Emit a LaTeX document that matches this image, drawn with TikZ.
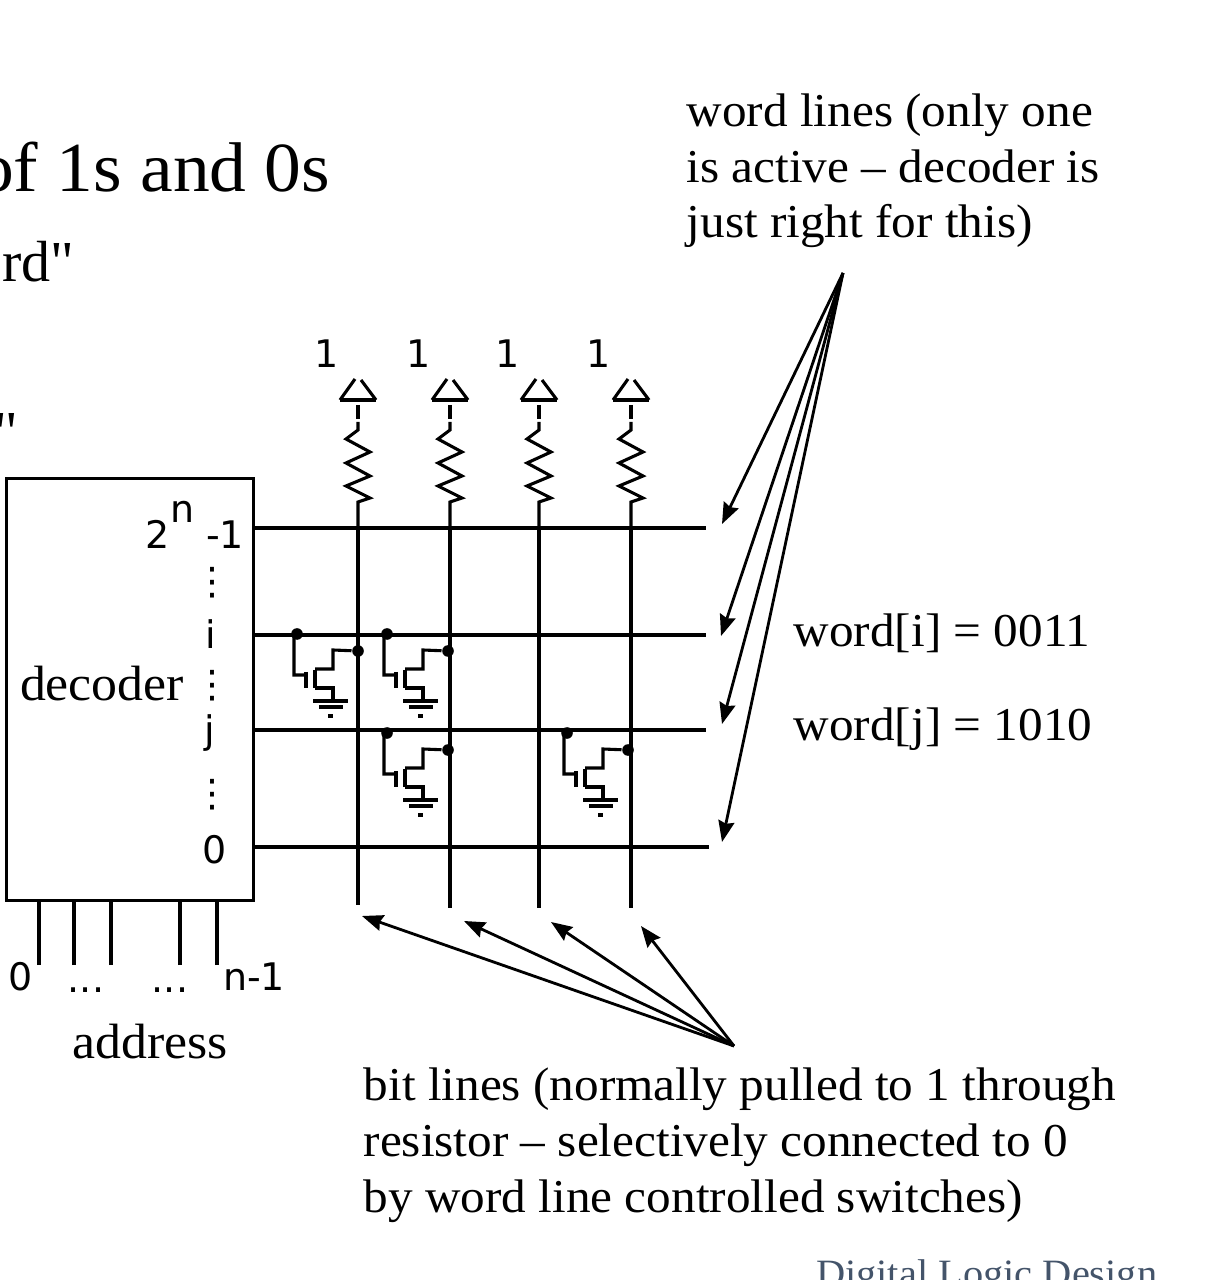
\documentclass[tikz,border=0pt]{standalone}
\usepackage{fontspec}
\setmainfont[FakeStretch=1.045]{Liberation Serif}
\newfontfamily\quoteserif{Liberation Serif}
\setsansfont{DejaVu Sans}
\usetikzlibrary{arrows.meta}
\definecolor{footgray}{RGB}{68,84,106}
\tikzset{
   wire/.style={draw=black, line width=0.88pt},
   pointer/.style={draw=black, line width=0.8pt, -{Stealth[length=6pt,width=4.6pt,inset=0.7pt]}},
   note/.style={anchor=base west, inner sep=0pt, font=\rmfamily\fontsize{13.4}{15.9}\selectfont, align=left},
   blocklabel/.style={anchor=base, inner sep=0pt, font=\rmfamily\fontsize{14.1}{16}\selectfont},
   pin/.style={inner sep=0pt, font=\sffamily\fontsize{10.8}{12}\selectfont},
   joint/.style={circle, fill=black, inner sep=0pt, minimum size=3.3pt},
   cell/.pic={
      \node[joint] (-gate) at (0,0) {};
      \node[joint] (-drain) at (61,17) {};
      \draw[wire] ([xshift=-0.03cm]-gate.center) -- (-3,41) -- (9,41);
      \draw[wire] (9,38) -- (9,54);
      \draw[wire] (18,36) -- (18,54);
      \draw[wire] (-drain) -- (36,16) -- (36,35) -- (18,35);
      \draw[wire] (18,54) -- (36,54) -- (36,67);
      \draw[wire] (16,67) -- (51,67);
      \draw[wire] (22,73) -- (46,73);
      \draw[wire] (31,82) -- (36,82);
   },
   pull/.pic={
      \draw[wire] (-18,0) -- (18,0);
      \draw[wire] (-18,0) -- (-3,-21);
      \draw[wire] (3,-20) -- (18,0);
      \draw[wire] (0,5) -- (0,19);
      \draw[wire] (0,22) -- (0,30) -- (-12,39) -- (12,52) -- (-12,63) -- (12,76) -- (-12,86) -- (12,98) -- (0,102) -- (0,128);
   },
}
\begin{document}
\begin{tikzpicture}[x=0.01cm, y=-0.01cm]
   \useasboundingbox (0,0) rectangle (1219,1280);
   \clip (0,0) rectangle (1219,1280);
   % cut off slide text
   \node[anchor=base east, inner sep=0pt, font=\rmfamily\fontsize{20}{24}\selectfont] (title) at (331,192) {of 1s and 0s};
   \node[anchor=base east, inner sep=0pt, font=\quoteserif\fontsize{16.5}{18}\selectfont] (subword) at (75,282) {rd"};
   \node[anchor=base east, inner sep=0pt, font=\quoteserif\fontsize{16.5}{18}\selectfont] (subquote) at (19,452) {"};
   \node[anchor=base east, inner sep=0pt, text=footgray, font=\rmfamily\fontsize{11}{14}\selectfont] (footer) at (1158,1286) {Digital Logic Design};
   % decoder
   \node[wire, draw, rectangle, minimum width=2.46cm, minimum height=4.21cm, inner sep=0pt] (decoder) at (130,689.5) {};
   \node[blocklabel] (declabel) at (102,701) {decoder};
   \node[pin, anchor=base] (top2) at (158,549) {2};
   \node[pin, anchor=base] (topn) at (183,523) {n};
   \node[pin, anchor=base] (top1) at (225,549) {-1};
   \node[pin] (dotsa) at (212,583) {⋮};
   \node[pin] (labi) at (211,634) {i};
   \node[pin] (dotsb) at (212,686) {⋮};
   \node[pin] (labj) at (210,733) {j};
   \node[pin] (dotsc) at (212,795) {⋮};
   \node[pin] (lab0) at (215,850) {0};
   % word lines
   \coordinate (w3a) at (254,528);
   \coordinate (w3b) at (706,528);
   \coordinate (w2a) at (254,635);
   \coordinate (w2b) at (706,635);
   \coordinate (w1a) at (254,730);
   \coordinate (w1b) at (706,730);
   \coordinate (w0a) at (254,847);
   \coordinate (w0b) at (709,847);
   \draw[wire] (w3a) -- (w3b);
   \draw[wire] (w2a) -- (w2b);
   \draw[wire] (w1a) -- (w1b);
   \draw[wire] (w0a) -- (w0b);
   % bit lines
   \pic at (358,400) {pull};
   \pic at (450,400) {pull};
   \pic at (539,400) {pull};
   \pic at (631,400) {pull};
   \coordinate (b3a) at (358,528);
   \coordinate (b3b) at (358,905);
   \coordinate (b2a) at (450,528);
   \coordinate (b2b) at (450,908);
   \coordinate (b1a) at (539,528);
   \coordinate (b1b) at (539,908);
   \coordinate (b0a) at (631,528);
   \coordinate (b0b) at (631,908);
   \draw[wire] (b3a) -- (b3b);
   \draw[wire] (b2a) -- (b2b);
   \draw[wire] (b1a) -- (b1b);
   \draw[wire] (b0a) -- (b0b);
   \node[pin] (one3) at (327,354) {1};
   \node[pin] (one2) at (419,354) {1};
   \node[pin] (one1) at (508,354) {1};
   \node[pin] (one0) at (599,354) {1};
   % switches
   \pic (ca) at (297,634) {cell};
   \pic (cb) at (387,634) {cell};
   \pic (cc) at (387,733) {cell};
   \pic (cd) at (567,733) {cell};
   % address
   \coordinate (a0) at (39,965);
   \coordinate (a1) at (74,965);
   \coordinate (a2) at (111,965);
   \coordinate (a3) at (180,965);
   \coordinate (a4) at (217,965);
   \draw[wire] (a0) -- (39,900);
   \draw[wire] (a1) -- (74,900);
   \draw[wire] (a2) -- (111,900);
   \draw[wire] (a3) -- (180,900);
   \draw[wire] (a4) -- (217,900);
   \node[pin] (adr0) at (21,977) {0};
   \node[pin] (adrd) at (86,990) {...};
   \node[pin] (adre) at (170,990) {...};
   \node[pin] (adrn) at (254,977) {n-1};
   \node[blocklabel] (adrlabel) at (150,1058) {address};
   % notes
   \node[note] (wordnote) at (686,238) {word lines (only one\\is active -- decoder is\\just right for this)};
   \node[note] (wordi) at (793,647) {word[i] = 0011};
   \node[note] (wordj) at (793,740) {word[j] = 1010};
   \node[note] (bitnote) at (363,1212) {bit lines (normally pulled to 1 through\\resistor -- selectively connected to 0\\by word line controlled switches)};
   % pointers
   \coordinate (wordfrom) at (843,273);
   \coordinate (bitfrom) at (734,1046);
   \coordinate (wp3) at (722,524);
   \coordinate (wp2) at (721,636);
   \coordinate (wp1) at (722,724);
   \coordinate (wp0) at (722,842);
   \coordinate (bp3) at (362,916);
   \coordinate (bp2) at (464,921);
   \coordinate (bp1) at (551,922);
   \coordinate (bp0) at (641,926);
   \draw[pointer] (wordfrom) -- (wp3);
   \draw[pointer] (wordfrom) -- (wp2);
   \draw[pointer] (wordfrom) -- (wp1);
   \draw[pointer] (wordfrom) -- (wp0);
   \draw[pointer] (bitfrom) -- (bp3);
   \draw[pointer] (bitfrom) -- (bp2);
   \draw[pointer] (bitfrom) -- (bp1);
   \draw[pointer] (bitfrom) -- (bp0);
\end{tikzpicture}
\end{document}
